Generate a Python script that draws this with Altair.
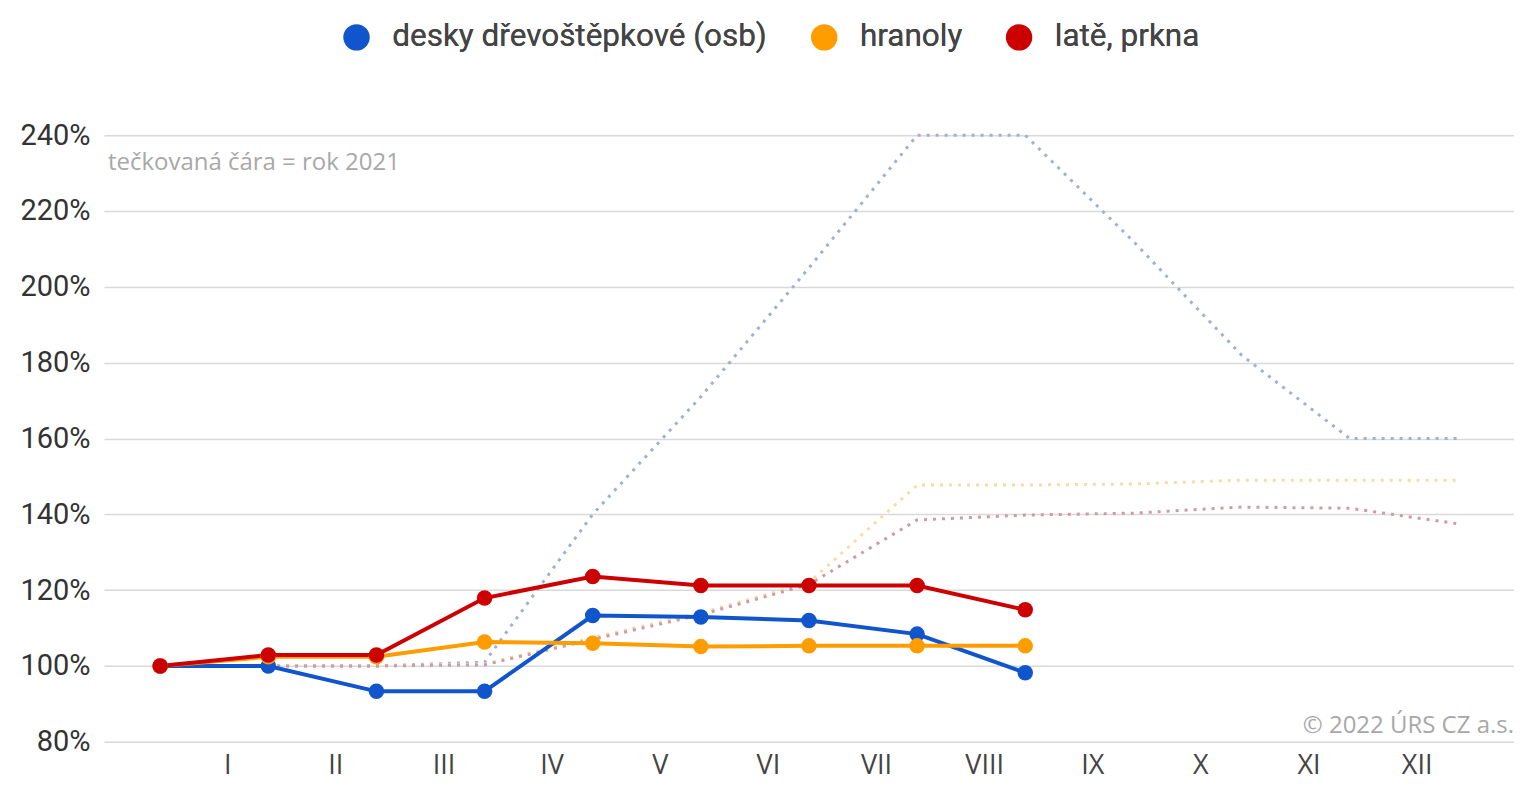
import altair as alt
import pandas as pd

# ---- data ----
months_roman = ["I", "II", "III", "IV", "V", "VI", "VII", "VIII", "IX", "X", "XI", "XII"]
series_names = ["desky dřevoštěpkové (osb)", "hranoly", "latě, prkna"]
series_names_2021 = ["desky dřevoštěpkové (osb) 2021", "hranoly 2021", "latě, prkna 2021"]

steps_2022 = [0, 1, 2, 3, 4, 5, 6, 7, 8]
osb_2022 = [100, 100, 93.3, 93.3, 113.3, 112.9, 112.0, 108.4, 98.2]
hranoly_2022 = [100, 102.4, 102.4, 106.3, 106.0, 105.1, 105.3, 105.3, 105.3]
late_2022 = [100, 102.9, 102.9, 117.9, 123.6, 121.2, 121.2, 121.2, 114.8]

steps_2021 = [0, 1, 2, 3, 4, 5, 6, 7, 8, 9, 10, 11, 12]
osb_2021 = [100, 100, 100, 101, 140, 171, 205, 240, 240, 212, 182, 160, 160]
hranoly_2021 = [100, 100, 100, 100.5, 107.5, 114, 122, 147.7, 147.7, 148, 149, 149, 149]
late_2021 = [100, 100, 100, 100.3, 107, 113.5, 121.5, 138.5, 139.8, 140.3, 141.9, 141.6, 137.5]

note_text = "tečkovaná čára = rok 2021"
copyright_text = "© 2022 ÚRS CZ a.s."

y_ticks = [80, 100, 120, 140, 160, 180, 200, 220, 240]

# ---- tables ----
rows22 = []
for name, vals in zip(series_names, [osb_2022, hranoly_2022, late_2022]):
    for s, v in zip(steps_2022, vals):
        rows22.append({"series": name, "step": s, "value": v})
df22 = pd.DataFrame(rows22)

rows21 = []
for name, vals in zip(series_names_2021, [osb_2021, hranoly_2021, late_2021]):
    for s, v in zip(steps_2021, vals):
        rows21.append({"series21": name, "step": s, "value": v})
df21 = pd.DataFrame(rows21)

W, H = 1411, 607

label_offset = 0.62
roman_js = "[" + ",".join("'" + m + "'" for m in months_roman) + "]"

x_enc = alt.X(
    "step:Q",
    scale=alt.Scale(domain=[-0.52, 12.52], nice=False, zero=False),
    axis=alt.Axis(
        values=[i + label_offset for i in range(len(months_roman))],
        labelExpr=roman_js + f"[round(datum.value - {label_offset})]",
        grid=False, domain=False, ticks=False, title=None,
        labelFont="Open Sans", labelFontSize=27, labelColor="#444444",
        labelPadding=11, labelBaseline="top",
    ),
)
y_enc = alt.Y(
    "value:Q",
    scale=alt.Scale(domain=[80, 240], nice=False, zero=False),
    axis=alt.Axis(
        values=y_ticks,
        labelExpr="datum.value + '%'",
        grid=True, gridColor="#d9d9d9", gridWidth=1.5,
        domain=False, ticks=False, title=None,
        labelFont="Roboto", labelFontSize=29, labelColor="#333333",
        labelPadding=14,
    ),
)

solid_scale = alt.Scale(domain=series_names, range=["#1155cc", "#ff9d00", "#cc0000"])
dotted_scale = alt.Scale(domain=series_names_2021, range=["#9fb1d2", "#f6dca6", "#cf9aa4"])

legend = alt.Legend(
    orient="none", legendX=237, legendY=-114, direction="horizontal", title=None,
    symbolType="circle", symbolSize=700, symbolStrokeWidth=0, symbolOpacity=1,
    labelFont="Roboto", labelFontSize=31.5, labelColor="#444444", labelLimit=800,
    labelOffset=20, columnPadding=41, padding=0,
)

dotted = alt.Chart(df21).mark_line(strokeDash=[3, 6], strokeWidth=3).encode(
    x=x_enc, y=y_enc,
    color=alt.Color("series21:N", scale=dotted_scale, legend=None),
)

lines = alt.Chart(df22).mark_line(strokeWidth=4).encode(
    x=x_enc, y=y_enc,
    color=alt.Color("series:N", scale=solid_scale, legend=legend),
)

points = alt.Chart(df22).mark_circle(size=240, opacity=1).encode(
    x=x_enc, y=y_enc,
    color=alt.Color("series:N", scale=solid_scale, legend=legend),
)

note = alt.Chart(pd.DataFrame({"t": [note_text]})).mark_text(
    align="left", baseline="middle", font="Open Sans", fontSize=24, color="#a8a8a8"
).encode(x=alt.value(4), y=alt.value(28), text="t:N")

copyright_mark = alt.Chart(pd.DataFrame({"t": [copyright_text]})).mark_text(
    align="right", baseline="middle", font="Open Sans", fontSize=24, color="#a8a8a8"
).encode(x=alt.value(W), y=alt.value(591), text="t:N")

chart = (
    alt.layer(dotted, lines, points, note, copyright_mark)
    .resolve_scale(color="independent")
    .properties(
        width=W, height=H,
        autosize=alt.AutoSizeParams(type="none"),
        padding={"left": 96, "top": 127, "right": 0, "bottom": 40},
        background="white",
    )
    .configure_view(stroke=None)
)

chart.save("out.html", embed_options={"renderer": "svg", "actions": False})
